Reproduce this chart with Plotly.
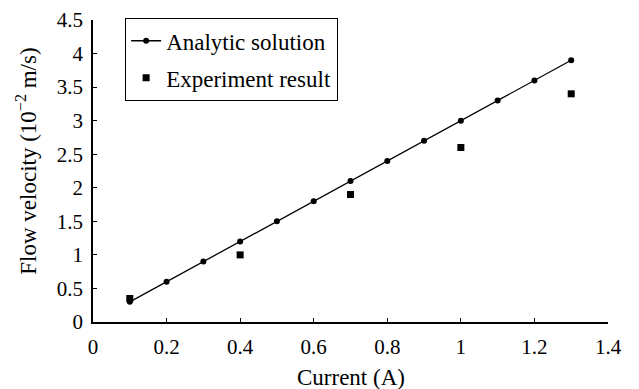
import plotly.graph_objects as go

analytic_x = [0.1, 0.2, 0.3, 0.4, 0.5, 0.6, 0.7, 0.8, 0.9, 1.0, 1.1, 1.2, 1.3]
analytic_y = [0.3, 0.6, 0.9, 1.2, 1.5, 1.8, 2.1, 2.4, 2.7, 3.0, 3.3, 3.6, 3.9]
exp_x = [0.1, 0.4, 0.7, 1.0, 1.3]
exp_y = [0.35, 1.0, 1.9, 2.6, 3.4]

x_ticks = [0, 0.2, 0.4, 0.6, 0.8, 1, 1.2, 1.4]
x_labels = ["0", "0.2", "0.4", "0.6", "0.8", "1", "1.2", "1.4"]
y_ticks = [0, 0.5, 1, 1.5, 2, 2.5, 3, 3.5, 4, 4.5]
y_labels = ["0", "0.5", "1", "1.5", "2", "2.5", "3", "3.5", "4", "4.5"]

FAM = "Liberation Serif, Times New Roman, serif"
tick_font = dict(family=FAM, size=21, color="black")
big_font = dict(family=FAM, size=23, color="black")

fig = go.Figure()
fig.add_trace(go.Scatter(x=analytic_x, y=analytic_y, mode="lines+markers",
                         name="Analytic solution", legendgroup="a",
                         line=dict(color="black", width=1.3),
                         marker=dict(color="black", size=6, symbol="circle")))
fig.add_trace(go.Scatter(x=exp_x, y=exp_y, mode="markers",
                         name="Experiment result", legendgroup="b",
                         marker=dict(color="black", size=7, symbol="square")))

axis_common = dict(showgrid=False, zeroline=False, showline=True, linecolor="black",
                   linewidth=1.5, ticks="inside", ticklen=4, tickcolor="black",
                   tickwidth=1.2, tickfont=tick_font, mirror=False, automargin=False)

fig.update_layout(
    width=631, height=381,
    paper_bgcolor="white", plot_bgcolor="white",
    margin=dict(l=85, r=31, t=11, b=67),
    font=big_font,
    showlegend=True,
    legend=dict(x=0.062, y=1.003, xanchor="left", yanchor="top",
                bordercolor="black", borderwidth=1.2, bgcolor="white",
                font=big_font, traceorder="grouped", tracegroupgap=4,
                itemwidth=30),
    xaxis=dict(range=[0, 1.4], tickvals=x_ticks, ticktext=x_labels,
               ticklabelstandoff=5, **axis_common),
    yaxis=dict(range=[0, 4.5], tickvals=y_ticks, ticktext=y_labels,
               ticklabelstandoff=4, **axis_common),
    annotations=[
        dict(text="Current (A)", xref="paper", yref="paper", x=0.5, y=-0.185,
             xanchor="center", yanchor="middle", showarrow=False, font=big_font),
        dict(text="Flow velocity (10<sup>−2</sup> m/s)", xref="paper", yref="paper",
             x=-0.128, y=0.531, xanchor="center", yanchor="middle", textangle=-90,
             showarrow=False, font=big_font),
    ],
)

fig.write_html("out.html")
